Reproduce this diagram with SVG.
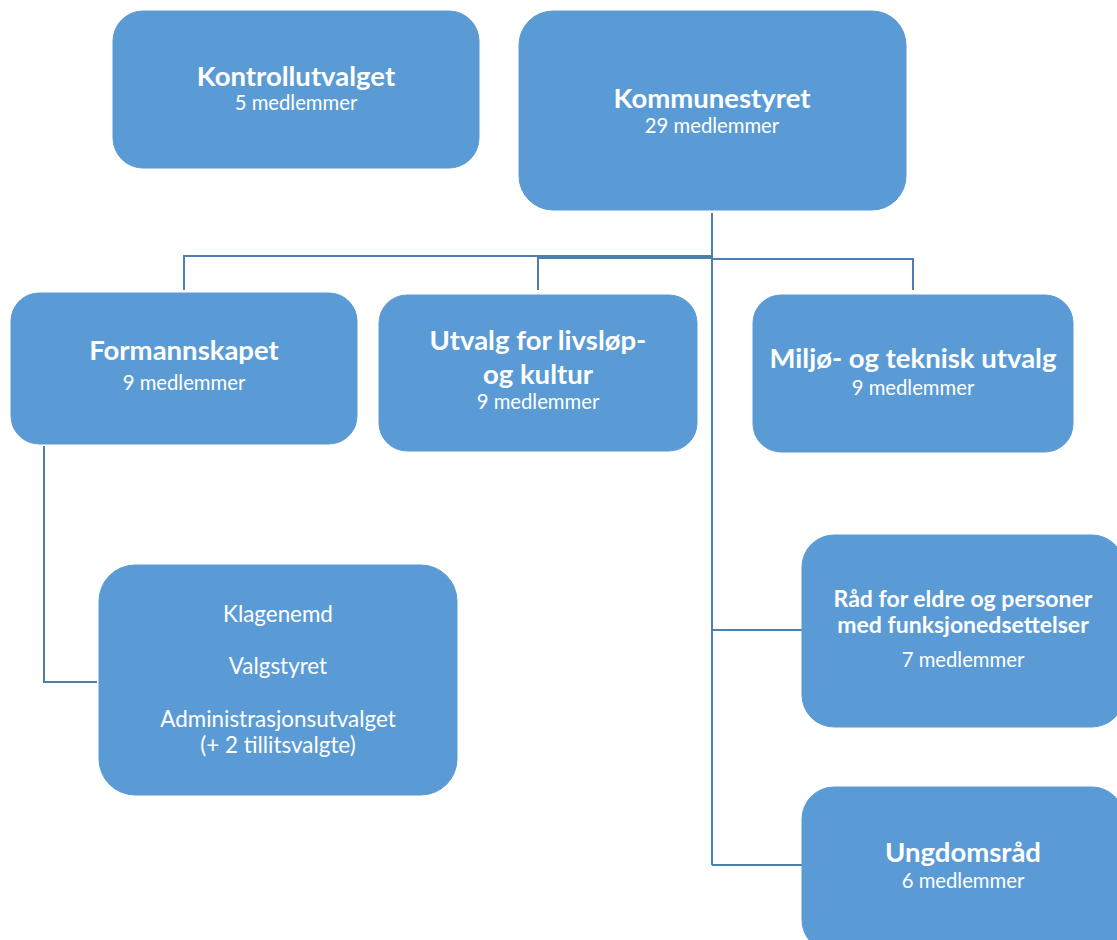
<svg xmlns="http://www.w3.org/2000/svg" width="1117" height="940" viewBox="0 0 1117 940">
<style>
.box{fill:#5B9BD5;stroke:#5B9BD5;stroke-width:1}
.t{font-family:Lato,"Liberation Sans",sans-serif;fill:#fff;text-anchor:middle}
.b{font-weight:bold;font-size:27.5px}
.s{font-size:20.3px}
.r{font-size:22.4px}
.c{fill:none;stroke:#4A7FB0;stroke-width:2}
</style>
<rect width="1117" height="940" fill="#fff"/>
<g id="connectors">
<path class="c" d="M712 213 V865"/>
<path class="c" d="M184 290 V256 H712"/>
<path class="c" d="M538 290 V258 H712"/>
<path class="c" d="M712 259 H913 V290"/>
<path class="c" d="M44 446 V682 H97"/>
<path class="c" d="M712 630 H802"/>
<path class="c" d="M712 865 H802"/>
</g>
<g id="kontrollutvalget">
<rect class="box" x="113" y="11" width="366" height="157" rx="30"/>
<text class="t b" x="296" y="86">Kontrollutvalget</text>
<text class="t s" x="296" y="110">5 medlemmer</text>
</g>
<g id="kommunestyret">
<rect class="box" x="519" y="11" width="387" height="199" rx="34"/>
<text class="t b" x="712" y="108">Kommunestyret</text>
<text class="t s" x="712" y="133">29 medlemmer</text>
</g>
<g id="formannskapet">
<rect class="box" x="11" y="293" width="346" height="151" rx="28"/>
<text class="t b" x="184" y="360">Formannskapet</text>
<text class="t s" x="184" y="390">9 medlemmer</text>
</g>
<g id="utvalg-livslop">
<rect class="box" x="379" y="295" width="318" height="156" rx="28"/>
<text class="t b" x="538" y="350">Utvalg for livsløp-</text>
<text class="t b" x="538" y="384">og kultur</text>
<text class="t s" x="538" y="409">9 medlemmer</text>
</g>
<g id="miljo">
<rect class="box" x="753" y="295" width="320" height="157" rx="28"/>
<text class="t b" x="913" y="368">Miljø- og teknisk utvalg</text>
<text class="t s" x="913" y="395">9 medlemmer</text>
</g>
<g id="klagenemd">
<rect class="box" x="99" y="565" width="358" height="230" rx="36"/>
<text class="t r" x="278" y="622">Klagenemd</text>
<text class="t r" x="278" y="674">Valgstyret</text>
<text class="t r" x="278" y="727">Administrasjonsutvalget</text>
<text class="t r" x="278" y="753">(+ 2 tillitsvalgte)</text>
</g>
<g id="rad-eldre">
<rect class="box" x="802" y="535" width="322" height="192" rx="32"/>
<text class="t b" x="963" y="607" style="font-size:23px">Råd for eldre og personer</text>
<text class="t b" x="963" y="633" style="font-size:23px">med funksjonedsettelser</text>
<text class="t s" x="963" y="667">7 medlemmer</text>
</g>
<g id="ungdomsrad">
<rect class="box" x="802" y="787" width="322" height="165" rx="32"/>
<text class="t b" x="963" y="862">Ungdomsråd</text>
<text class="t s" x="963" y="888">6 medlemmer</text>
</g>
</svg>
